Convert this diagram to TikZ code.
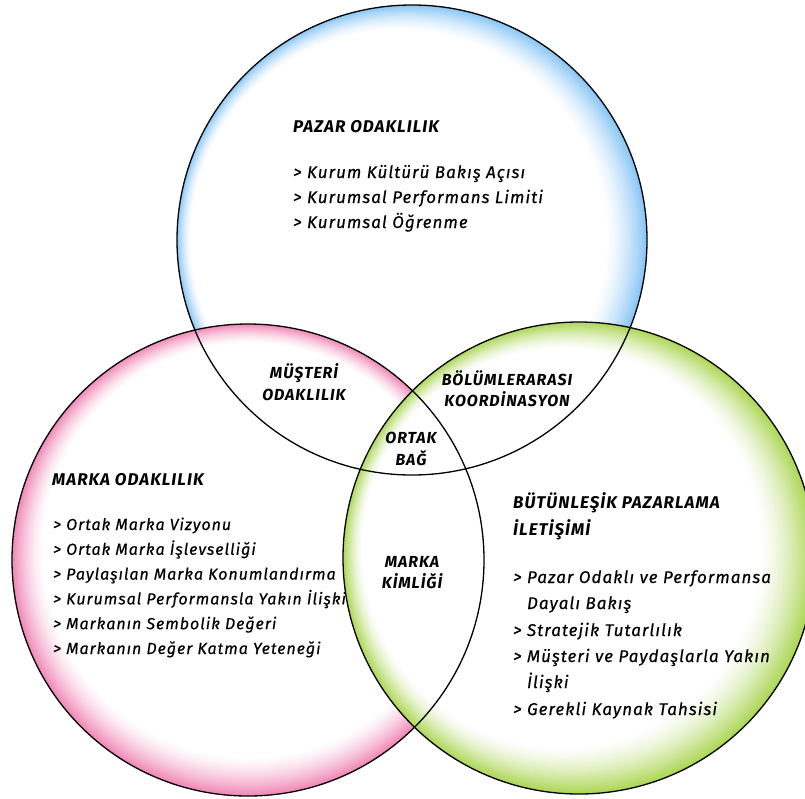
\documentclass[tikz,border=0pt]{standalone}
\usepackage{fontspec}
\setmainfont{Fira Sans}[LetterSpace=6, ItalicFeatures={FakeBold=0.4}]

% rim colours of the three sets
\definecolor{rimblue}{RGB}{135,198,245}
\definecolor{rimpink}{RGB}{240,135,182}
\definecolor{rimgreen}{RGB}{172,214,84}

% A disc that is white inside and fades into a coloured rim,
% built from nested discs: #1,#2 centre, #3 radius, #4 rim width,
% #5,#6 shift of the white core, #7 rim colour
\newcommand{\glowdisc}[7]{%
  \foreach \k in {0,...,44}{%
    \pgfmathsetmacro{\glowt}{\k/44}%
    \pgfmathtruncatemacro{\glowmix}{100*(1-\glowt)^1.5}%
    \fill[#7!\glowmix!white] ({#1+#5*\glowt},{#2+#6*\glowt}) circle[radius={#3-#4*\glowt}];
  }%
}

\tikzset{
  setring/.style={draw=black, line width=1.3pt},
  headtxt/.style={anchor=base west, inner sep=0pt, font=\fontsize{17}{20}\selectfont\bfseries\itshape},
  itemtxt/.style={anchor=base west, inner sep=0pt, font=\fontsize{17}{20}\selectfont\itshape},
  itemtxtsm/.style={anchor=base west, inner sep=0pt, font=\fontsize{16}{19}\selectfont\itshape},
  meettxt/.style={anchor=base, inner sep=0pt, align=center, font=\fontsize{16}{19}\selectfont\bfseries\itshape},
}

\begin{document}
\begin{tikzpicture}[x=1pt, y=-1pt]
  \useasboundingbox (0,0) rectangle (805,798);
  \clip (0,0) rectangle (805,798);

  % set centres
  \coordinate (cm) at (412,240);
  \coordinate (cb) at (248,560);
  \coordinate (ci) at (579,558);

  % glowing discs, later ones cover earlier ones
  \glowdisc{412}{240}{235}{28}{-14}{-2}{rimblue}
  \glowdisc{248}{560}{236}{30}{2}{-10}{rimpink}
  \glowdisc{579}{558}{236}{38}{-18}{-10}{rimgreen}

  % outlines on top
  \draw[setring] (cm) circle[radius=235];
  \draw[setring] (cb) circle[radius=236];
  \draw[setring] (ci) circle[radius=236];

  % market orientation
  \node[headtxt] (mhead) at (293,132) {PAZAR ODAKLILIK};
  \foreach \t [count=\i] in {Kurum Kültürü Bakış Açısı, Kurumsal Performans Limiti, Kurumsal Öğrenme}
    \node[itemtxt] (mitem\i) at (293,{178+25*(\i-1)}) {> \t};

  % brand orientation
  \node[headtxt] (bhead) at (52,485) {MARKA ODAKLILIK};
  \foreach \t [count=\i] in {Ortak Marka Vizyonu, Ortak Marka İşlevselliği, Paylaşılan Marka Konumlandırma, Kurumsal Performansla Yakın İlişki, Markanın Sembolik Değeri, Markanın Değer Katma Yeteneği}
    \node[itemtxtsm] (bitem\i) at (53,{530+24.8*(\i-1)}) {> \t};

  % integrated marketing communication
  \node[headtxt] (ihead1) at (513,508) {BÜTÜNLEŞİK PAZARLAMA};
  \node[headtxt] (ihead2) at (513,535) {İLETİŞİMİ};
  \node[itemtxt] (iitem1) at (513,583) {> Pazar Odaklı ve Performansa};
  \node[itemtxt] (iitem1b) at (513,609) {\hphantom{> }Dayalı Bakış};
  \node[itemtxt] (iitem2) at (513,636) {> Stratejik Tutarlılık};
  \node[itemtxt] (iitem3) at (513,662) {> Müşteri ve Paydaşlarla Yakın};
  \node[itemtxt] (iitem3b) at (513,688) {\hphantom{> }İlişki};
  \node[itemtxt] (iitem4) at (513,715) {> Gerekli Kaynak Tahsisi};

  % overlaps
  \node[meettxt] (mb1) at (304,378) {MÜŞTERİ};
  \node[meettxt] (mb2) at (304,400) {ODAKLILIK};
  \node[meettxt] (mi1) at (507,385) {BÖLÜMLERARASI};
  \node[meettxt] (mi2) at (507,406) {KOORDİNASYON};
  \node[meettxt] (all1) at (411,443) {ORTAK};
  \node[meettxt] (all2) at (411,465) {BAĞ};
  \node[meettxt] (bi1) at (412,567) {MARKA};
  \node[meettxt] (bi2) at (412,588) {KİMLİĞİ};
\end{tikzpicture}
\end{document}
